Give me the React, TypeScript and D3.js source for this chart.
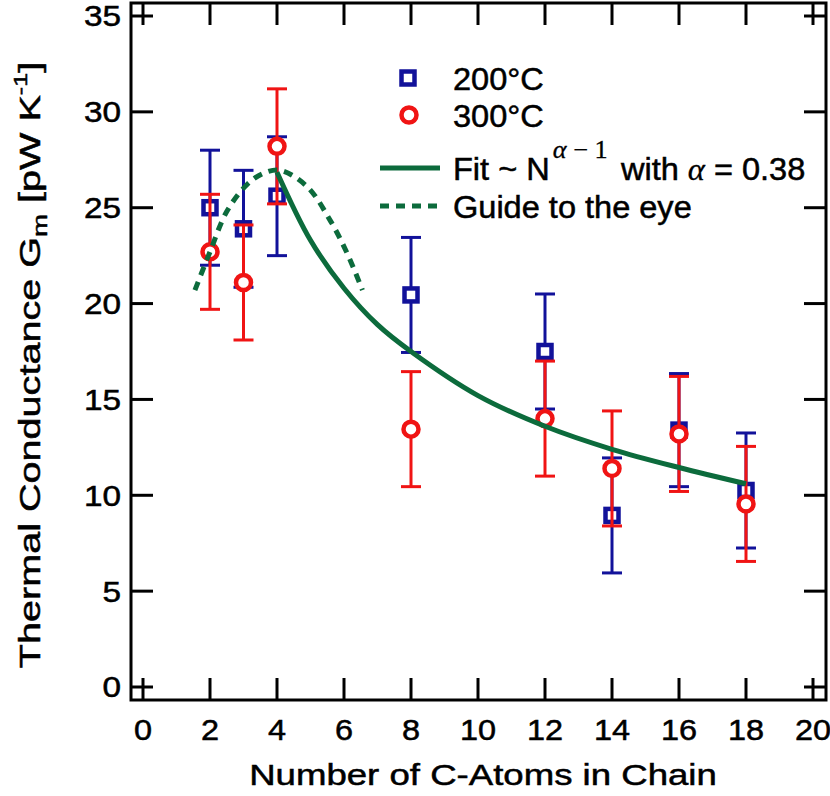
import React, { useEffect, useRef } from 'react'
import * as d3 from 'd3'

// Number of carbon atoms in chain
const carbonAtoms = [2, 3, 4, 8, 12, 14, 16, 18]

// 200°C series
const g200 = [25.0, 23.9, 25.6, 20.45, 17.5, 8.95, 13.4, 10.25]
const err200 = [3.0, 3.05, 3.1, 3.0, 3.0, 3.0, 2.95, 3.0]

// 300°C series
const g300 = [22.7, 21.1, 28.2, 13.45, 14.0, 11.4, 13.2, 9.55]
const err300 = [3.0, 3.0, 3.0, 3.0, 3.0, 3.0, 3.0, 3.0]

// Fit ~ N^(alpha-1)
const fitN = [4, 5, 6, 7, 8, 10, 12, 14, 16, 18]
const fitG = [26.85, 23.3, 20.8, 18.9, 17.5, 15.2, 13.6, 12.4, 11.45, 10.6]

// Guide to the eye
const guideN = [1.55, 2.0, 2.5, 3.1, 3.6, 4.1, 4.9, 5.6, 6.1, 6.55]
const guideG = [20.7, 22.7, 24.8, 26.2, 26.8, 26.95, 26.1, 24.3, 22.6, 20.7]

const xTicks = [0, 2, 4, 6, 8, 10, 12, 14, 16, 18, 20]
const yTicks = [0, 5, 10, 15, 20, 25, 30, 35]

const WIDTH = 830
const HEIGHT = 796
const BLUE = '#12129a'
const RED = '#f01414'
const GREEN = '#0c6b3c'
const SANS = '"Liberation Sans", Arial, sans-serif'
const SERIF = '"Liberation Serif", "DejaVu Serif", serif'

function Chart() {
  const svgRef = useRef<SVGSVGElement>(null)

  useEffect(() => {
    if (!svgRef.current) return
    const svg = d3.select(svgRef.current)
    svg.selectAll('*').remove()

    // frame edges
    const frame = { left: 131, right: 826, top: 3, bottom: 700 }

    const x = d3.scaleLinear().domain([0, 20]).range([143, 813])
    const y = d3.scaleLinear().domain([0, 35]).range([687, 16])

    svg.append('rect')
      .attr('width', WIDTH).attr('height', HEIGHT).attr('fill', 'white')

    const tickLen = 22
    const axes = svg.append('g').attr('stroke', 'black').attr('stroke-width', 3)

    // x ticks, bottom and top, pointing inward
    xTicks.forEach(t => {
      axes.append('line')
        .attr('x1', x(t)).attr('x2', x(t))
        .attr('y1', frame.bottom).attr('y2', frame.bottom - tickLen)
      axes.append('line')
        .attr('x1', x(t)).attr('x2', x(t))
        .attr('y1', frame.top).attr('y2', frame.top + tickLen)
    })
    // y ticks, left and right
    yTicks.forEach(t => {
      axes.append('line')
        .attr('x1', frame.left).attr('x2', frame.left + tickLen)
        .attr('y1', y(t)).attr('y2', y(t))
      axes.append('line')
        .attr('x1', frame.right).attr('x2', frame.right - tickLen)
        .attr('y1', y(t)).attr('y2', y(t))
    })

    axes.append('rect')
      .attr('x', frame.left).attr('y', frame.top)
      .attr('width', frame.right - frame.left)
      .attr('height', frame.bottom - frame.top)
      .attr('fill', 'none')

    // tick labels (the font in the original is a bit wide and heavy)
    const labels = svg.append('g')
      .attr('font-family', SANS)
      .attr('font-size', 29)
      .attr('fill', 'black')
      .attr('stroke', 'black')
      .attr('stroke-width', 0.5)

    xTicks.forEach(t => {
      labels.append('text')
        .attr('transform', `translate(${x(t)},740) scale(1.12,1)`)
        .attr('text-anchor', 'middle')
        .text(t)
    })
    yTicks.forEach(t => {
      labels.append('text')
        .attr('transform', `translate(121,${y(t)}) scale(1.15,1)`)
        .attr('text-anchor', 'end')
        .attr('dy', '0.36em')
        .text(t)
    })

    // axis titles
    const titles = svg.append('g')
      .attr('font-family', SANS)
      .attr('font-size', 30)
      .attr('fill', 'black')
      .attr('stroke', 'black')
      .attr('stroke-width', 0.5)

    titles.append('text')
      .attr('transform', `translate(483,785) scale(1.22,1)`)
      .attr('text-anchor', 'middle')
      .text('Number of C-Atoms in Chain')

    const yTitle = titles.append('text')
      .attr('transform', `translate(40,365) rotate(-90) scale(1.32,1)`)
      .attr('text-anchor', 'middle')
    yTitle.append('tspan').text('Thermal Conductance G')
    yTitle.append('tspan').attr('font-size', 21).attr('dy', 7).text('m')
    yTitle.append('tspan').attr('dy', -7).text(' [pW K')
    yTitle.append('tspan').attr('font-size', 19).attr('dy', -13).text('-1')
    yTitle.append('tspan').attr('dy', 13).text(']')

    const plot = svg.append('g')

    const drawSeries = (vals: number[], errs: number[], color: string, shape: 'square' | 'circle') => {
      const s = plot.append('g')
      carbonAtoms.forEach((n, i) => {
        const cx = x(n)
        const top = y(vals[i] + errs[i])
        const bot = y(vals[i] - errs[i])
        s.append('line')
          .attr('x1', cx).attr('x2', cx).attr('y1', top).attr('y2', bot)
          .attr('stroke', color).attr('stroke-width', 3)
        ;[top, bot].forEach(yy => {
          s.append('line')
            .attr('x1', cx - 10).attr('x2', cx + 10).attr('y1', yy).attr('y2', yy)
            .attr('stroke', color).attr('stroke-width', 3)
        })
      })
      carbonAtoms.forEach((n, i) => {
        if (shape === 'square') {
          s.append('rect')
            .attr('x', x(n) - 6.5).attr('y', y(vals[i]) - 6.5)
            .attr('width', 13).attr('height', 13)
            .attr('fill', 'white').attr('stroke', color).attr('stroke-width', 4.5)
        } else {
          s.append('circle')
            .attr('cx', x(n)).attr('cy', y(vals[i])).attr('r', 7.5)
            .attr('fill', 'white').attr('stroke', color).attr('stroke-width', 4.5)
        }
      })
    }

    drawSeries(g200, err200, BLUE, 'square')
    drawSeries(g300, err300, RED, 'circle')

    const fitLine = d3.line<number>()
      .x((_, i) => x(fitN[i]))
      .y(d => y(d))
      .curve(d3.curveCatmullRom.alpha(0.5))

    plot.append('path')
      .attr('d', fitLine(fitG))
      .attr('fill', 'none').attr('stroke', GREEN).attr('stroke-width', 5)

    const guideLine = d3.line<number>()
      .x((_, i) => x(guideN[i]))
      .y(d => y(d))
      .curve(d3.curveCatmullRom.alpha(0.5))

    plot.append('path')
      .attr('d', guideLine(guideG))
      .attr('fill', 'none').attr('stroke', GREEN).attr('stroke-width', 5)
      .attr('stroke-dasharray', '9,7')

    // legend
    const legend = svg.append('g')
      .attr('font-family', SANS)
      .attr('font-size', 31)
      .attr('fill', 'black')

    const legendText = (yy: number) =>
      legend.append('text')
        .attr('transform', `translate(453,${yy}) scale(1.05,1)`)
        .attr('stroke', 'black').attr('stroke-width', 0.5)

    legend.append('rect')
      .attr('x', 408 - 6.5).attr('y', 78 - 6.5).attr('width', 13).attr('height', 13)
      .attr('fill', 'white').attr('stroke', BLUE).attr('stroke-width', 4.5)
    legendText(90).text('200°C')

    legend.append('circle')
      .attr('cx', 409).attr('cy', 115).attr('r', 7.5)
      .attr('fill', 'white').attr('stroke', RED).attr('stroke-width', 4.5)
    legendText(127).text('300°C')

    legend.append('line')
      .attr('x1', 380).attr('x2', 440).attr('y1', 168).attr('y2', 168)
      .attr('stroke', GREEN).attr('stroke-width', 5)
    const fitText = legendText(180)
    fitText.append('tspan').text('Fit ~ N')
    fitText.append('tspan')
      .attr('font-family', SERIF).attr('font-style', 'italic').attr('font-size', 25)
      .attr('stroke-width', 0.3)
      .attr('dy', -22).attr('dx', 3).text('α')
    fitText.append('tspan')
      .attr('font-family', SERIF).attr('font-size', 25)
      .attr('stroke-width', 0.3).text(' − 1')
    fitText.append('tspan').attr('dy', 22).attr('dx', 4).text(' with ')
    fitText.append('tspan')
      .attr('font-family', SERIF).attr('font-style', 'italic')
      .attr('stroke-width', 0.3).text('α')
    fitText.append('tspan').text(' = 0.38')

    legend.append('line')
      .attr('x1', 380).attr('x2', 440).attr('y1', 206).attr('y2', 206)
      .attr('stroke', GREEN).attr('stroke-width', 5)
      .attr('stroke-dasharray', '9,7')
    legendText(218).text('Guide to the eye')
  }, [])

  return <svg ref={svgRef} width={WIDTH} height={HEIGHT} style={{ display: 'block' }} />
}

export default function App() {
  return (
    <div style={{ position: 'absolute', left: 0, top: 0 }}>
      <Chart />
    </div>
  )
}
